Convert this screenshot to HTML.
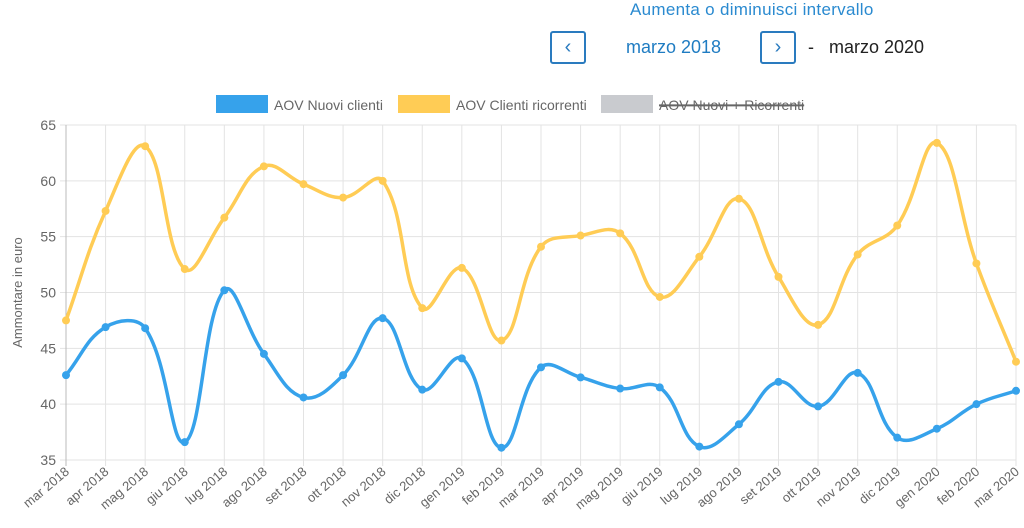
<!DOCTYPE html>
<html><head><meta charset="utf-8"><style>
body{margin:0;width:1024px;height:528px;background:#fff;font-family:"Liberation Sans",sans-serif;overflow:hidden;position:relative}
.t{position:absolute;left:630px;top:0;font-size:17px;color:#2a8ad0;letter-spacing:.3px}
.btn{position:absolute;top:31px;width:36px;height:33px;border:2px solid #2a7bbf;border-radius:3px;box-sizing:border-box;color:#2a7bbf;font-size:20px;text-align:center;line-height:29px}
.d{position:absolute;top:37px;font-size:18px}
</style></head><body>
<div class="t">Aumenta o diminuisci intervallo</div>
<div class="btn" style="left:550px">&#8249;</div>
<div class="d" style="left:626px;color:#1f7cc2">marzo 2018</div>
<div class="btn" style="left:760px">&#8250;</div>
<div class="d" style="left:808px;color:#222">-&nbsp;&nbsp; marzo 2020</div>
<svg id="c" width="1024" height="528" style="position:absolute;left:0;top:0"></svg>
<script>
const categories=["mar 2018","apr 2018","mag 2018","giu 2018","lug 2018","ago 2018","set 2018","ott 2018","nov 2018","dic 2018","gen 2019","feb 2019","mar 2019","apr 2019","mag 2019","giu 2019","lug 2019","ago 2019","set 2019","ott 2019","nov 2019","dic 2019","gen 2020","feb 2020","mar 2020"];
const nuovi=[42.6,46.9,46.8,36.6,50.2,44.5,40.6,42.6,47.7,41.3,44.1,36.1,43.3,42.4,41.4,41.5,36.2,38.2,42.0,39.8,42.8,37.0,37.8,40.0,41.2];
const ricorrenti=[47.5,57.3,63.1,52.1,56.7,61.3,59.7,58.5,60.0,48.6,52.2,45.7,54.1,55.1,55.3,49.6,53.2,58.4,51.4,47.1,53.4,56.0,63.4,52.6,43.8];
const yTicks=[35,40,45,50,55,60,65];
const legendLabels=["AOV Nuovi clienti","AOV Clienti ricorrenti","AOV Nuovi + Ricorrenti"];
const NS="http://www.w3.org/2000/svg",svg=document.getElementById('c');
const L=66,R=1016,T=125,B=460,ymin=35,ymax=65;
const x=i=>L+(R-L)*i/(categories.length-1);
const y=v=>B-(v-ymin)/(ymax-ymin)*(B-T);
function el(t,a,p){const e=document.createElementNS(NS,t);for(const k in a)e.setAttribute(k,a[k]);(p||svg).appendChild(e);return e;}
yTicks.forEach(v=>{
 const g=el('line',{x1:L-6,x2:R,y1:y(v),y2:y(v),stroke:'#e3e3e3'});
 
 
 const t=el('text',{x:L-10,y:y(v)+5,'text-anchor':'end','font-size':14,fill:'#666'});t.textContent=v;
 
 
});
categories.forEach((c,i)=>{
 const g=el('line',{x1:x(i),x2:x(i),y1:T,y2:B+6,stroke:i==0?'#bbb':'#e3e3e3'});
 
 
 const t=el('text',{x:0,y:0,'text-anchor':'end','font-size':13,fill:'#666',transform:`translate(${x(i)+4},${B+13}) rotate(-40)`});t.textContent=c;
 
 
});
const yt=el('text',{x:0,y:0,'text-anchor':'middle','font-size':13,fill:'#666',transform:`translate(22,${(T+B)/2}) rotate(-90)`});yt.textContent="Ammontare in euro";


function path(vals){
 const p=vals.map((v,i)=>[x(i),y(v)]);const tn=0.4;let d=`M${p[0][0]},${p[0][1]}`;
 const cp=p.map((pt,i)=>{const a=p[Math.max(0,i-1)],b=p[Math.min(p.length-1,i+1)];
  const d01=Math.hypot(pt[0]-a[0],pt[1]-a[1]),d12=Math.hypot(b[0]-pt[0],b[1]-pt[1]);
  let fa=d01/(d01+d12)||0,fb=d12/(d01+d12)||0;fa*=tn;fb*=tn;
  return {p:[pt[0]-fa*(b[0]-a[0]),pt[1]-fa*(b[1]-a[1])],n:[pt[0]+fb*(b[0]-a[0]),pt[1]+fb*(b[1]-a[1])]};});
 for(let i=1;i<p.length;i++)d+=` C${cp[i-1].n[0]},${cp[i-1].n[1]} ${cp[i].p[0]},${cp[i].p[1]} ${p[i][0]},${p[i][1]}`;
 return d;
}
[[ricorrenti,'#ffcc55','ricorrenti'],[nuovi,'#36a2eb','nuovi']].forEach(([vals,col,n])=>{
 const l=el('path',{d:path(vals),fill:'none',stroke:col,'stroke-width':3.5});
 
 
 vals.forEach((v,i)=>{const c=el('circle',{cx:x(i),cy:y(v),r:4,fill:col});
  
  });
});
const lx=[216,398,601],lc=['#36a2eb','#ffcc55','#c9cbcf'];
legendLabels.forEach((s,i)=>{
 const r=el('rect',{x:lx[i],y:95,width:52,height:18,fill:lc[i]});
 
 
 const t=el('text',{x:lx[i]+58,y:110,'font-size':14,fill:'#666','text-decoration':i==2?'line-through':'none'});t.textContent=s;
 
 
 if(i==2){const w=t.getComputedTextLength();const s2=el('line',{x1:lx[i]+58,x2:lx[i]+58+w,y1:105,y2:105,stroke:'#666','stroke-width':1.2});
  
  }
});
</script>
</body></html>
